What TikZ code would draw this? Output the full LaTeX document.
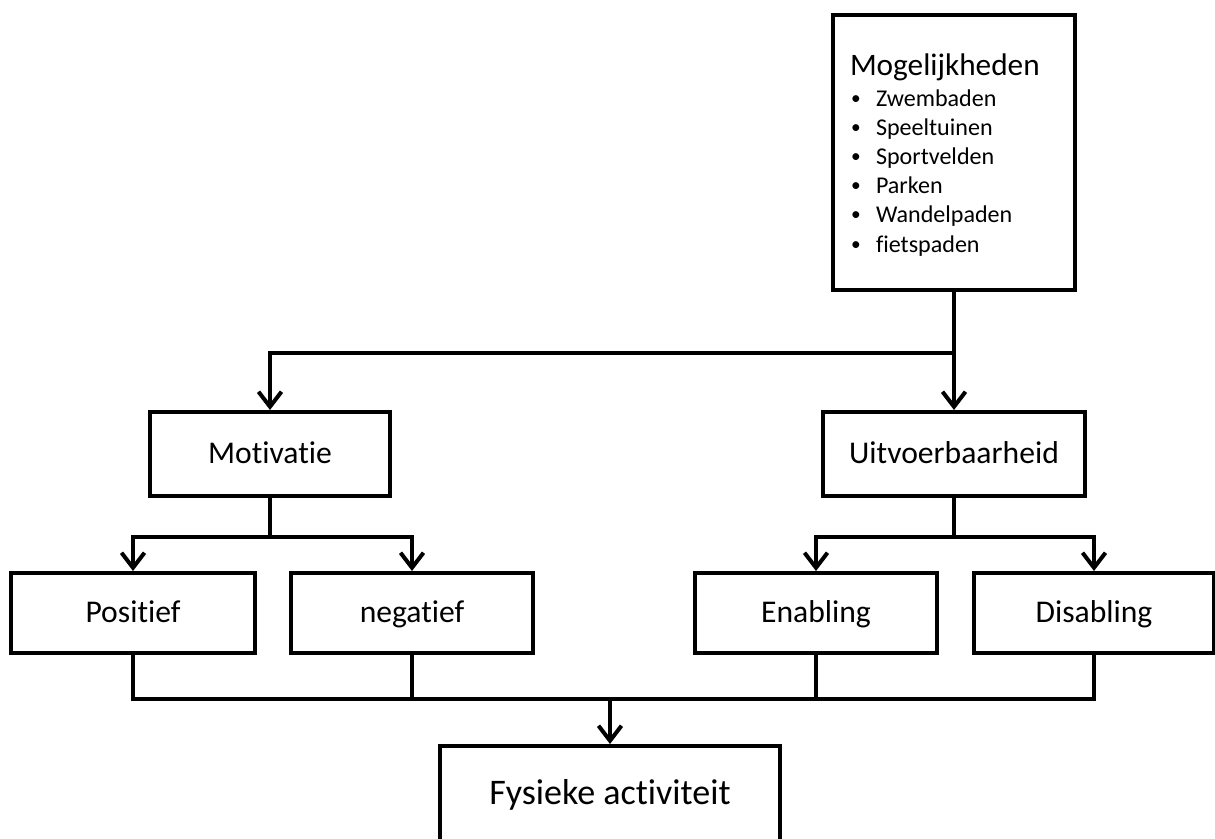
\documentclass[tikz,border=0pt]{standalone}
\usepackage{fontspec}
\setmainfont{Carlito}[Ligatures=NoCommon]
\usetikzlibrary{arrows.meta}
\begin{document}
\begin{tikzpicture}[x=0.02cm,y=-0.02cm,
  line width=0.08cm,
  box/.style={draw, line width=0.08cm, inner sep=0pt, fill=white,
    font=\fontsize{18}{21}\selectfont, text height=14pt, text depth=2.7pt},
  arr/.style={-{Straight Barb[length=0.3cm,width=0.46cm]}},
  listtitle/.style={anchor=base west, inner sep=0pt, font=\fontsize{17.8}{20}\selectfont},
  listitem/.style={anchor=base west, inner sep=0pt, font=\fontsize{13.7}{16}\selectfont},
  listbullet/.style={anchor=base west, inner sep=0pt, font=\fontsize{11}{13}\selectfont}]
\useasboundingbox (0,0) rectangle (1215,839);
\clip (0,0) rectangle (1215,839);

% boxes
\node[box, minimum width=4.86cm, minimum height=5.5cm] (mog) at (954,152.5) {};
\node[box, minimum width=4.8cm, minimum height=1.68cm] (mot) at (270,454) {Motivatie};
\node[box, minimum width=5.24cm, minimum height=1.68cm] (uit) at (954,454) {Uitvoerbaarheid};
\node[box, minimum width=4.88cm, minimum height=1.6cm] (pos) at (133,613) {Positief};
\node[box, minimum width=4.84cm, minimum height=1.6cm] (neg) at (412,613) {negatief};
\node[box, minimum width=4.86cm, minimum height=1.6cm] (ena) at (816,613) {Enabling};
\node[box, minimum width=4.8cm, minimum height=1.6cm] (dis) at (1094,613) {Disabling};
\node[box, minimum width=6.8cm, minimum height=2.04cm,
  font=\fontsize{20.5}{24}\selectfont, text height=14pt, text depth=5pt] (fys) at (610,797) {Fysieke activiteit};

% list inside the top box
\node[listtitle] (mogtitle) at (848,75) {Mogelijkheden};
\foreach \t [count=\i from 0] in {Zwembaden,Speeltuinen,Sportvelden,Parken,Wandelpaden,fietspaden}{
  \node[listbullet] (bul\i) at (849,104+29.2*\i) {\textbullet};
  \node[listitem] (item\i) at (874,106+29.2*\i) {\t};
}

% junction points
\coordinate (j1) at (954,353);
\coordinate (j2) at (270,537);
\coordinate (j3) at (954,537);
\coordinate (j4) at (610,699);

% connectors
\draw[arr] (mog.south) -- (uit.north);
\draw[arr] (j1) -| (mot.north);
\draw (mot.south) -- (j2);
\draw[arr] (j2) -| (pos.north);
\draw[arr] (j2) -| (neg.north);
\draw (uit.south) -- (j3);
\draw[arr] (j3) -| (ena.north);
\draw[arr] (j3) -| (dis.north);
\draw (pos.south) |- (j4) -| (dis.south);
\draw (neg.south) |- (j4);
\draw (ena.south) |- (j4);
\draw[arr] (j4) -- (fys.north);
\end{tikzpicture}
\end{document}
